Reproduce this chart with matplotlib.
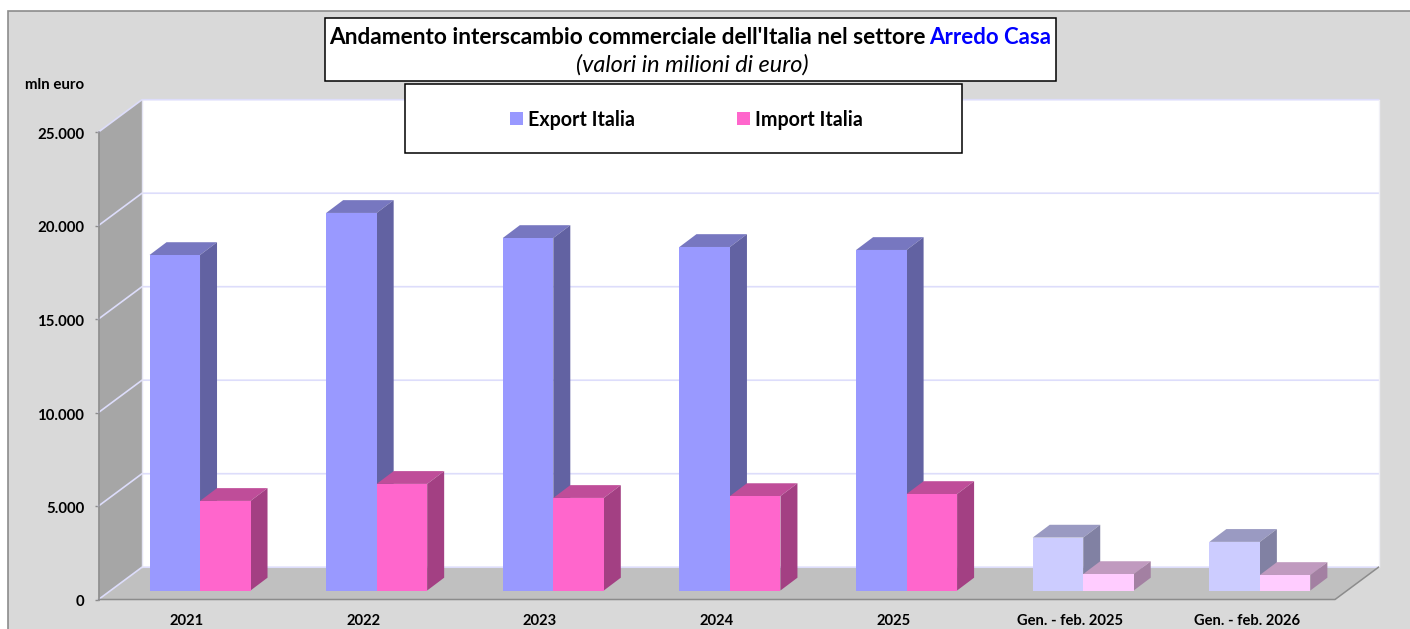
import matplotlib
matplotlib.use("Agg")
import matplotlib.pyplot as plt
from matplotlib.patches import Polygon, Rectangle, Patch
from matplotlib.transforms import ScaledTranslation

plt.rcParams['font.family'] = ['Lato', 'DejaVu Sans']

categories = ['2021', '2022', '2023', '2024', '2025', 'Gen. - feb. 2025', 'Gen. - feb. 2026']
export_italia = [17940, 20190, 18850, 18370, 18210, 2830, 2600]
import_italia = [4790, 5700, 4950, 5050, 5160, 880, 830]
y_ticks = [0, 5000, 10000, 15000, 20000, 25000]
y_tick_labels = ['0', '5.000', '10.000', '15.000', '20.000', '25.000']

W, H = 1410, 629
fig = plt.figure(figsize=(W / 100, H / 100), dpi=100, facecolor='white')

def fx(px): return px / W
def fy(py): return 1 - py / H

# panel background
fig.patches.append(Rectangle((fx(7.5), -0.01), fx(W), fy(10.5) + 0.01, transform=fig.transFigure,
                             facecolor='#D9D9D9', edgecolor='#8C8C8C', lw=1.2, zorder=-5))

ax = fig.add_axes([fx(98.5), fy(599.5), 1236.5 / W, 467.5 / H], zorder=1)
ax.set_xlim(0, len(categories))
ax.set_ylim(0, 25000)
ax.patch.set_visible(False)
for s in ax.spines.values():
    s.set_visible(False)

px_x = 1236.5 / len(categories)   # px per category
px_y = 467.5 / 25000              # px per unit
DX = 43.5 / px_x
DY = 32.3 / px_y
bdx = 17 / px_x
bdy = 12.8 / px_y
base = 9 / px_y
shift = 13.2 / px_x
bw = 50.5 / px_x
n = len(categories)
grid_c = '#DDDDFB'

def poly(pts, fc, z, ec='none', lw=0):
    ax.add_patch(Polygon(pts, closed=True, facecolor=fc, edgecolor=ec, lw=lw, zorder=z, clip_on=False))

# walls
poly([(DX, DY), (n + DX, DY), (n + DX, 25000 + DY), (DX, 25000 + DY)], 'white', 1)
poly([(0, 0), (DX, DY), (DX, 25000 + DY), (0, 25000)], '#A6A6A6', 1)
poly([(0, 0), (n, 0), (n + DX, DY), (DX, DY)], '#C0C0C0', 1)

# gridlines
for v in y_ticks:
    ax.plot([0, DX, n + DX], [v, v + DY, v + DY], color=grid_c, lw=1.2, zorder=2, clip_on=False)
ax.plot([DX, DX], [DY, 25000 + DY], color='#E4E4F4', lw=1, zorder=2, clip_on=False)
ax.plot([n + DX, n + DX], [DY, 25000 + DY], color='#F0F0F6', lw=1, zorder=2, clip_on=False)

# axis lines
ax.plot([0, 0], [0, 25000], color='#8C8C8C', lw=1.1, zorder=3, clip_on=False)
ax.plot([0, n, n + DX], [0, 0, DY], color='#8C8C8C', lw=1.1, zorder=3, clip_on=False)

def bar3d(x, v, front, top, side, z):
    ax.bar(x, v, bw, bottom=base, align='edge', color=front, zorder=z + 0.2, linewidth=0)
    t = base + v
    poly([(x, t), (x + bw, t), (x + bw + bdx, t + bdy), (x + bdx, t + bdy)], top, z)
    poly([(x + bw, base), (x + bw + bdx, base + bdy), (x + bw + bdx, t + bdy), (x + bw, t)], side, z)

for i in range(n):
    light = i >= 5
    x0 = i + 0.5 + shift - bw
    e_cols = ('#CCCCFF', '#9A9AC2', '#8181A3') if light else ('#9999FF', '#7777C0', '#6262A2')
    i_cols = ('#FFCCFF', '#C09ABF', '#A380A2') if light else ('#FF66CC', '#BF4D99', '#A34083')
    bar3d(x0, export_italia[i], *e_cols, 5 + i)
    bar3d(x0 + bw, import_italia[i], *i_cols, 5.5 + i)

# ticks
ax.set_xlim(0, n)
ax.set_ylim(0, 25000)
ax.set_yticks(y_ticks)
ax.set_yticklabels(y_tick_labels, fontsize=10.8, fontweight='bold', color='black')
ax.tick_params(axis='y', length=3.2, width=1, color='#8C8C8C', pad=7)
ax.set_xticks([i + 0.5 for i in range(n)])
ax.set_xticklabels(categories, fontsize=10.6, fontweight='bold', color='black')
ax.tick_params(axis='x', length=0, pad=10.5)
nudge = ScaledTranslation(0, -1.5 / 72 * 72 / 100, fig.dpi_scale_trans)
for lab in ax.get_yticklabels():
    lab.set_transform(lab.get_transform() + nudge)

fig.text(fx(55), fy(85), 'mln euro', ha='center', va='center', fontsize=10.8, fontweight='bold')

# title box
fig.patches.append(Rectangle((fx(324.5), fy(80.5)), 731.5 / W, 62.5 / H, transform=fig.transFigure,
                             facecolor='white', edgecolor='black', lw=1.1, zorder=20))
fig.text(fx(329), fy(37.5), "Andamento interscambio commerciale dell'Italia nel settore",
         ha='left', va='center', fontsize=16.3, fontweight='bold', color='black', zorder=21)
fig.text(fx(1051), fy(37.5), 'Arredo Casa', ha='right', va='center', fontsize=16,
         fontweight='bold', color='#0000FF', zorder=21)
fig.text(fx(692.5), fy(65), '(valori in milioni di euro)', ha='center', va='center', fontsize=16.9,
         fontstyle='italic', color='black', zorder=21)

# legend box
fig.patches.append(Rectangle((fx(404.5), fy(153)), 557.5 / W, 69 / H, transform=fig.transFigure,
                             facecolor='white', edgecolor='black', lw=1.1, zorder=20))
handles = [Patch(facecolor='#9999FF', label='Export Italia'), Patch(facecolor='#FF66CC', label='Import Italia')]
leg = fig.legend(handles=handles, ncol=2, frameon=False, loc='center',
                 bbox_to_anchor=(fx(686.5), fy(119.5)), prop={'size': 14.1, 'weight': 'bold'},
                 handlelength=0.67, handleheight=0.67, handletextpad=0.25, columnspacing=5.24,
                 borderpad=0, borderaxespad=0)
leg.set_zorder(22)

fig.savefig('out.png', dpi=100, facecolor='white')
